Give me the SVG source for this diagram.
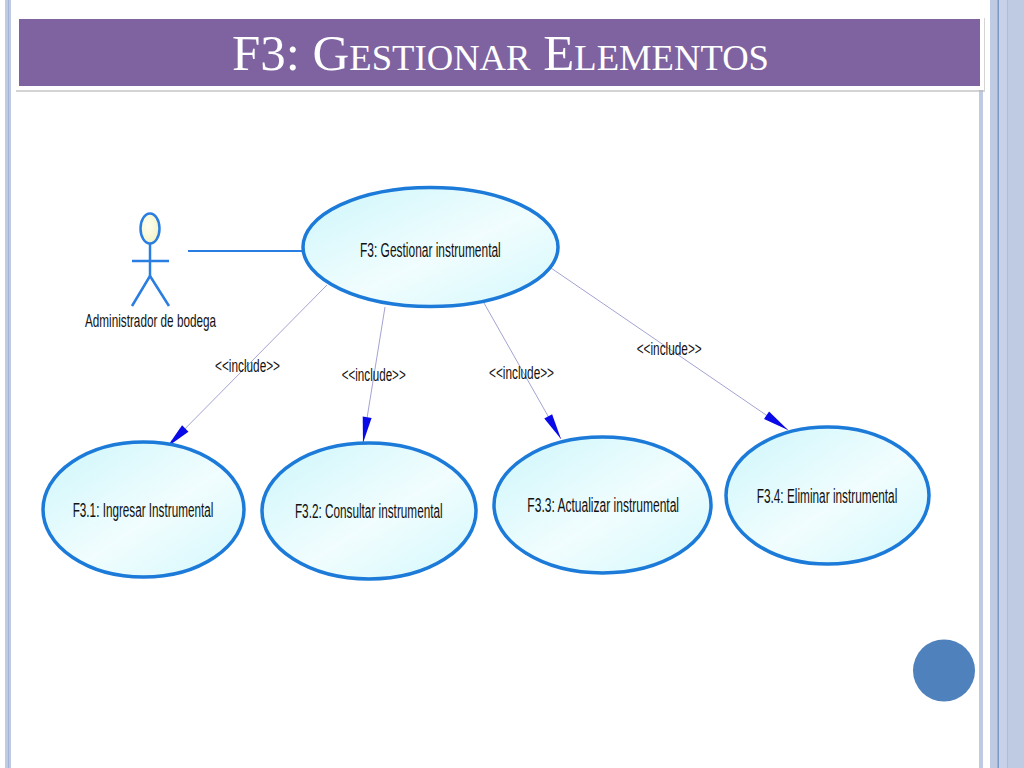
<svg xmlns="http://www.w3.org/2000/svg" width="1024" height="768" viewBox="0 0 1024 768">
  <defs>
    <style>
      .uc { fill: url(#ucFill); stroke: #1C7AD9; stroke-width: 3.5; }
      .lbl { font-family: "Liberation Sans", Arial, sans-serif; fill: #111; }
      .uctext { font-size: 20px; text-anchor: middle; }
      .inc { font-size: 18px; text-anchor: middle; }
      .dep { stroke: #A3A3D3; stroke-width: 1; fill: none; marker-end: url(#arrow); }
      .actor { stroke: #2A7DE1; stroke-width: 2.5; fill: none; }
      .stripe { fill: #BFCBE3; }
    </style>
    <linearGradient id="ucFill" x1="0" y1="0" x2="1" y2="1">
      <stop offset="0" stop-color="#CDF6FB"/>
      <stop offset="0.55" stop-color="#F1FDFE"/>
      <stop offset="1" stop-color="#D3F8FC"/>
    </linearGradient>
    <radialGradient id="headFill" cx="0.4" cy="0.4" r="0.7">
      <stop offset="0" stop-color="#FFFFF2"/>
      <stop offset="1" stop-color="#F2F2C0"/>
    </radialGradient>
    <marker id="arrow" markerUnits="userSpaceOnUse" viewBox="-27 -6 28 12" refX="0" refY="0" markerWidth="28" markerHeight="12" orient="auto">
      <path d="M0,0 L-26,-4.5 L-26,4.5 Z" fill="#0A0AE8"/>
    </marker>
  </defs>

  <rect x="0" y="0" width="1024" height="768" fill="#FFFFFF"/>

  <!-- slide borders -->
  <g id="borders">
    <rect class="stripe" x="5" y="0" width="6" height="768"/>
    <rect x="8" y="0" width="1" height="768" fill="#A3B4D6"/>
    <rect class="stripe" x="979" y="88" width="4" height="680"/>
    <rect class="stripe" x="990" y="0" width="34" height="768"/>
    <rect x="997.5" y="0" width="1.5" height="768" fill="#7E98C6"/>
    <rect x="999" y="0" width="8" height="768" fill="#C7D2E9"/>
    <rect x="1007" y="0" width="1" height="768" fill="#AFBDDA"/>
  </g>

  <!-- title -->
  <g id="title">
    <rect x="16" y="18" width="969" height="74" fill="#B8B8B8" opacity="0.6"/>
    <rect x="15" y="16" width="969" height="74" fill="#FFFFFF"/>
    <rect x="19" y="19" width="961" height="67" fill="#7E63A0"/>
    <text x="232" y="70" font-family="'Liberation Serif', 'Times New Roman', serif" fill="#FFFFFF" textLength="537" lengthAdjust="spacingAndGlyphs"><tspan font-size="50">F3: G</tspan><tspan font-size="36">ESTIONAR</tspan><tspan font-size="50"> E</tspan><tspan font-size="36">LEMENTOS</tspan></text>
  </g>

  <!-- connectors -->
  <g id="connectors">
    <line x1="188" y1="251" x2="303" y2="251" stroke="#2A7DE1" stroke-width="2.2"/>
    <line class="dep" x1="327" y1="285" x2="167" y2="447"/>
    <line class="dep" x1="385" y1="307" x2="363" y2="443"/>
    <line class="dep" x1="484" y1="303" x2="561" y2="439"/>
    <line class="dep" x1="551" y1="268" x2="788" y2="430"/>
    <text class="lbl inc" x="247.5" y="372" textLength="65" lengthAdjust="spacingAndGlyphs">&lt;&lt;include&gt;&gt;</text>
    <text class="lbl inc" x="373.7" y="381" textLength="64" lengthAdjust="spacingAndGlyphs">&lt;&lt;include&gt;&gt;</text>
    <text class="lbl inc" x="521.5" y="379" textLength="65" lengthAdjust="spacingAndGlyphs">&lt;&lt;include&gt;&gt;</text>
    <text class="lbl inc" x="669.2" y="355" textLength="65" lengthAdjust="spacingAndGlyphs">&lt;&lt;include&gt;&gt;</text>
  </g>

  <!-- actor -->
  <g id="actor">
    <ellipse cx="150" cy="228.5" rx="9.5" ry="15" fill="url(#headFill)" stroke="#2A7DE1" stroke-width="2.5"/>
    <line class="actor" x1="150" y1="244" x2="150" y2="276"/>
    <line class="actor" x1="132" y1="261" x2="169" y2="261"/>
    <polyline class="actor" points="132,306 150,276 169,306"/>
    <text class="lbl" x="150.5" y="327" font-size="18.5" text-anchor="middle" textLength="131" lengthAdjust="spacingAndGlyphs">Administrador de bodega</text>
  </g>

  <!-- use cases -->
  <g id="uc-f3">
    <ellipse class="uc" cx="430.5" cy="247" rx="127.5" ry="59.5"/>
    <text class="lbl uctext" x="430.4" y="256.5" textLength="140.7" lengthAdjust="spacingAndGlyphs">F3: Gestionar instrumental</text>
  </g>
  <g id="uc-f31">
    <ellipse class="uc" cx="143.5" cy="509.5" rx="100.5" ry="67.5"/>
    <text class="lbl uctext" x="143" y="517.3" textLength="140.6" lengthAdjust="spacingAndGlyphs">F3.1: Ingresar Instrumental</text>
  </g>
  <g id="uc-f32">
    <ellipse class="uc" cx="369" cy="511" rx="107" ry="68"/>
    <text class="lbl uctext" x="368.8" y="518.3" textLength="147.7" lengthAdjust="spacingAndGlyphs">F3.2: Consultar instrumental</text>
  </g>
  <g id="uc-f33">
    <ellipse class="uc" cx="602.5" cy="505" rx="108.5" ry="68"/>
    <text class="lbl uctext" x="603.2" y="512.3" textLength="151.7" lengthAdjust="spacingAndGlyphs">F3.3: Actualizar instrumental</text>
  </g>
  <g id="uc-f34">
    <ellipse class="uc" cx="827.5" cy="495.5" rx="101.5" ry="68.5"/>
    <text class="lbl uctext" x="827" y="502.7" textLength="140.6" lengthAdjust="spacingAndGlyphs">F3.4: Eliminar instrumental</text>
  </g>

  <!-- slide decoration -->
  <circle cx="944" cy="670.5" r="31" fill="#4F81BD"/>
</svg>
